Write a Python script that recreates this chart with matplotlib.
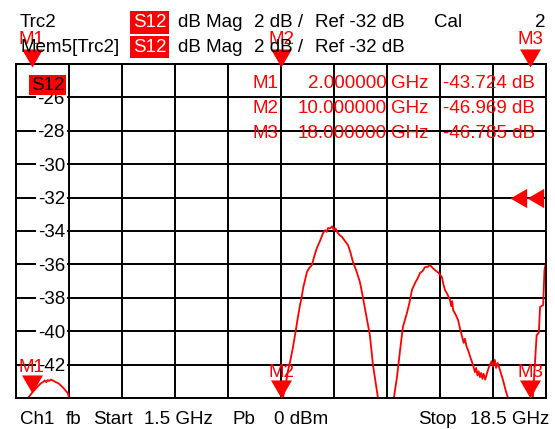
import matplotlib.pyplot as plt
import numpy as np
from matplotlib.transforms import blended_transform_factory

plt.rcParams['font.family'] = ['Liberation Sans', 'DejaVu Sans']

# S12 trace (GHz, dB); values below -44 dB run off the grid
freq = [1.50, 1.80, 1.88, 1.95, 2.00, 2.08, 2.18, 2.28, 2.37, 2.42, 2.47, 2.52, 2.56, 2.62,
        2.70, 2.78, 2.86, 2.94, 3.02, 3.10, 3.16, 3.20, 3.30, 3.39, 3.45,
        5.00, 7.50, 9.50, 10.00,
        10.06, 10.15, 10.22, 10.29, 10.37, 10.45, 10.53, 10.61, 10.66, 10.71, 10.77, 10.83,
        10.91, 10.99, 11.07, 11.15, 11.25, 11.35, 11.42, 11.47, 11.51, 11.57, 11.64, 11.70,
        11.75, 11.80, 11.88, 11.96, 12.05, 12.15, 12.23, 12.31, 12.42, 12.53, 12.61, 12.69,
        12.77, 12.85, 12.90, 12.95, 13.03, 13.11, 13.30, 13.50,
        13.62, 13.72, 13.82, 13.91, 14.04, 14.12, 14.20, 14.30, 14.38, 14.46, 14.54, 14.62,
        14.70, 14.78, 14.86, 14.94, 15.05, 15.16, 15.21, 15.26, 15.34, 15.42, 15.46, 15.49,
        15.52, 15.60, 15.68, 15.75, 15.81, 15.86, 15.90, 15.95, 16.00, 16.08, 16.16, 16.22,
        16.26, 16.30, 16.34, 16.38, 16.42, 16.46, 16.50, 16.55, 16.61, 16.66, 16.70, 16.75,
        16.80, 16.86, 16.90, 16.95, 17.02, 17.12, 17.20, 17.28, 17.50, 17.80, 18.00,
        18.08, 18.20, 18.27, 18.31, 18.41, 18.45, 18.50]
s12_db = [-46.5, -44.6, -44.0, -43.85, -43.72, -43.55, -43.35, -43.15, -43.04, -42.95, -43.05,
          -42.92, -42.98, -42.90, -42.97, -43.05, -43.12, -43.25, -43.40, -43.58, -43.70, -43.98,
          -44.0, -44.0, -46.5,
          -50.0, -49.0, -47.5, -46.97,
          -44.0, -43.2, -42.4, -41.84, -41.1, -40.23, -39.3, -38.43, -38.0, -37.41, -36.95, -36.46,
          -36.2, -36.04, -35.5, -35.02, -34.6, -34.12, -33.95, -34.05, -33.82, -33.85, -33.72,
          -33.95, -33.85, -34.06, -34.25, -34.36, -34.6, -34.84, -35.3, -35.86, -36.4, -37.05,
          -37.8, -38.61, -39.4, -40.23, -41.1, -42.02, -43.0, -44.0, -48.0, -47.5,
          -44.0, -42.74, -41.13, -39.75, -38.91, -38.3, -37.53, -37.11, -36.85, -36.51, -36.4,
          -36.16, -36.15, -36.04, -36.2, -36.34, -36.5, -36.75, -37.2, -37.53, -37.8, -38.13,
          -38.5, -38.2, -38.73, -39.0, -39.33, -39.9, -40.35, -40.7, -40.45, -40.9, -41.13,
          -41.6, -42.02, -42.45, -42.2, -42.65, -42.4, -42.75, -42.5, -42.85, -42.55, -42.9,
          -42.5, -42.2, -42.02, -41.8, -42.1, -41.72, -42.2, -41.9, -42.3, -42.92, -43.5, -44.0,
          -46.0, -47.0, -46.79,
          -43.94, -40.23, -40.1, -38.55, -38.43, -36.34, -35.86]

marker_names = ['M1', 'M2', 'M3']
marker_freq = [2.0, 10.0, 18.0]
marker_db = [-43.724, -46.969, -46.785]

y_ticks = [-26, -28, -30, -32, -34, -36, -38, -40, -42]
ref_level = -32
f_start, f_stop = 1.5, 18.5
y_bottom, y_top = -44, -24

W, H = 555, 429
RED = '#ff0000'
FS = 13.5


def fx(x):
    return x / W


def fy(y):
    return 1 - y / H


fig = plt.figure(figsize=(W / 100, H / 100), dpi=100)
ax = fig.add_axes([fx(16), fy(398), (546 - 16) / W, (398 - 64) / H])
ax.set_xlim(f_start, f_stop)
ax.set_ylim(y_bottom, y_top)
ax.set_xticks(np.linspace(f_start, f_stop, 11))
ax.set_yticks(np.arange(y_bottom, y_top + 1, 2))
ax.tick_params(length=0, labelleft=False, labelbottom=False)
ax.grid(True, color='black', linewidth=1.4)
ax.set_axisbelow(True)
for sp in ax.spines.values():
    sp.set_linewidth(1.4)
    sp.set_zorder(5)

# y scale labels sit inside the first column on white
tr_y = blended_transform_factory(ax.transAxes, ax.transData)
for v in y_ticks:
    ax.text((65 - 16) / 530, v, f'{v}', transform=tr_y, ha='right', va='center_baseline',
            fontsize=FS, zorder=3,
            bbox=dict(boxstyle='square,pad=0.08', facecolor='white', edgecolor='none'))

ax.plot(freq, s12_db, color=RED, linewidth=1.3, zorder=4)

# markers: triangles with tip on the point
tri_down = [(0, 0), (-0.58, 1), (0.58, 1), (0, 0)]
for name, f, v in zip(marker_names, marker_freq, marker_db):
    yb = max(v, y_bottom)
    ax.plot(f, yb, marker=tri_down, markersize=26, color=RED, clip_on=False, zorder=6,
            markeredgewidth=0)
    ax.annotate(name, (f, yb), xytext=(0, 20), textcoords='offset points', ha='center',
                va='center_baseline', color=RED, fontsize=FS, zorder=6, annotation_clip=False)
    ax.plot(f, y_top - 0.18, marker=tri_down, markersize=26, color=RED, clip_on=False,
            zorder=6, markeredgewidth=0)
    ax.annotate(name, (f, y_top - 0.18), xytext=(0, 21.5), textcoords='offset points',
                ha='center', va='center_baseline', color=RED, fontsize=FS, zorder=6,
                annotation_clip=False)

# reference level arrows on the right edge
tri_left = [(0, 0), (1, 0.58), (1, -0.58), (0, 0)]
for xa in [(510 - 16) / 530, (527 - 16) / 530]:
    ax.plot(xa, ref_level, marker=tri_left, markersize=24, color=RED, transform=tr_y,
            clip_on=False, zorder=6, markeredgewidth=0)

# trace tag inside the grid
ax.text((31 - 16) / 530, (398 - 83) / 334, 'S12', transform=ax.transAxes, ha='left',
        va='center_baseline', fontsize=FS, color='black', zorder=7,
        bbox=dict(boxstyle='square,pad=0.1', facecolor=RED, edgecolor='none'))

# marker readout table
for i, (name, f, v) in enumerate(zip(marker_names, marker_freq, marker_db)):
    yy = fy(82 + i * 24.5)
    fig.text(fx(252), yy, name, ha='left', va='center_baseline', color=RED, fontsize=FS,
             zorder=8)
    fig.text(fx(387), yy, f'{f:.6f}', ha='right', va='center_baseline', color=RED,
             fontsize=FS, zorder=8)
    fig.text(fx(391), yy, 'GHz', ha='left', va='center_baseline', color=RED, fontsize=FS,
             zorder=8)
    fig.text(fx(535), yy, f'{v:.3f} dB', ha='right', va='center_baseline', color=RED,
             fontsize=FS, zorder=8)

# header lines
for yy, first in [(20.5, 'Trc2'), (45, 'Mem5[Trc2]')]:
    fig.text(fx(20), fy(yy), first, ha='left', va='center_baseline', fontsize=FS)
    fig.text(fx(133), fy(yy), 'S12', ha='left', va='center_baseline', fontsize=FS,
             color='white',
             bbox=dict(boxstyle='square,pad=0.15', facecolor=RED, edgecolor='none'))
    fig.text(fx(178), fy(yy), 'dB Mag', ha='left', va='center_baseline', fontsize=FS)
    fig.text(fx(254), fy(yy), '2 dB /', ha='left', va='center_baseline', fontsize=FS)
    fig.text(fx(315), fy(yy), 'Ref -32 dB', ha='left', va='center_baseline', fontsize=FS)
fig.text(fx(434), fy(20.5), 'Cal', ha='left', va='center_baseline', fontsize=FS)
fig.text(fx(546), fy(20.5), '2', ha='right', va='center_baseline', fontsize=FS)

# channel footer
for x, s in [(20, 'Ch1'), (66, 'fb'), (93, 'Start'), (144, '1.5 GHz'), (233, 'Pb'),
             (274, '0 dBm'), (418, 'Stop'), (470, '18.5 GHz')]:
    fig.text(fx(x), fy(417), s, ha='left', va='center_baseline', fontsize=FS)

plt.savefig('out.png', dpi=100)
